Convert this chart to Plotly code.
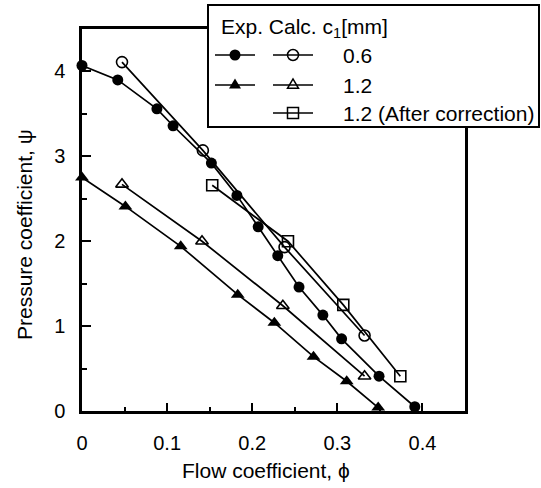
import plotly.graph_objects as go

# ---- data ----
exp06_x = [0.0, 0.042, 0.088, 0.107, 0.152, 0.182, 0.207, 0.230, 0.255, 0.283, 0.305, 0.349, 0.391]
exp06_y = [4.07, 3.90, 3.56, 3.36, 2.92, 2.54, 2.17, 1.83, 1.46, 1.13, 0.85, 0.41, 0.05]

calc06_x = [0.047, 0.142, 0.238, 0.332]
calc06_y = [4.11, 3.07, 1.93, 0.89]

exp12_x = [0.0, 0.051, 0.116, 0.183, 0.226, 0.272, 0.311, 0.348]
exp12_y = [2.75, 2.41, 1.94, 1.37, 1.04, 0.64, 0.35, 0.04]

calc12_x = [0.047, 0.141, 0.236, 0.332]
calc12_y = [2.67, 2.00, 1.24, 0.41]

corr12_x = [0.153, 0.242, 0.307, 0.374]
corr12_y = [2.66, 2.00, 1.25, 0.41]

x_ticks = [0, 0.1, 0.2, 0.3, 0.4]
y_ticks = [0, 1, 2, 3, 4]
legend_header = "Exp. Calc. c<sub>1</sub>[mm]"
legend_labels = ["0.6", "1.2", "1.2 (After correction)"]
x_title = "Flow coefficient, ϕ"
y_title = "Pressure coefficient, ψ"

# ---- figure geometry ----
W, H = 541, 488
ML, MR, MT, MB = 82, 76, 29, 77
PW, PH = W - ML - MR, H - MT - MB
FONT = "Liberation Sans, Arial, sans-serif"


def px(xp):
    return (xp - ML) / PW


def py(yp):
    return (H - MB - yp) / PH


fig = go.Figure()


def add_series(x, y, symbol, size, lw=1.6):
    fig.add_trace(go.Scatter(
        x=x, y=y, mode="lines+markers", cliponaxis=False, showlegend=False,
        line=dict(color="black", width=1.7),
        marker=dict(symbol=symbol, size=size, color="black",
                    line=dict(color="black", width=lw)),
    ))


add_series(calc06_x, calc06_y, "circle-open", 11)
add_series(calc12_x, calc12_y, "triangle-up-open", 11)
add_series(corr12_x, corr12_y, "square-open", 11)
add_series(exp06_x, exp06_y, "circle", 11, 0)
add_series(exp12_x, exp12_y, "triangle-up", 12, 0)

# ---- legend drawn with shapes/annotations ----
shapes = []
annotations = []
shapes.append(dict(type="rect", xref="paper", yref="paper", layer="above",
                   x0=px(208), x1=px(539), y0=py(127), y1=py(5),
                   fillcolor="white", line=dict(color="black", width=2)))

rows_y = [55, 85, 113]
exp_cx, calc_cx, half = 235, 293, 20


def glyph_line(cx, cy):
    shapes.append(dict(type="line", xref="paper", yref="paper", layer="above",
                       x0=px(cx - half), x1=px(cx + half), y0=py(cy), y1=py(cy),
                       line=dict(color="black", width=1.7)))


def glyph_marker(kind, filled, cx, cy):
    base = dict(xref="paper", yref="paper", layer="above",
                xsizemode="pixel", ysizemode="pixel",
                xanchor=px(cx), yanchor=py(cy),
                fillcolor="black" if filled else "rgba(0,0,0,0)",
                line=dict(color="black", width=0 if filled else 1.5))
    if kind == "circle":
        r = 5.5
        shapes.append(dict(base, type="circle", x0=-r, x1=r, y0=-r, y1=r))
    elif kind == "triangle":
        s = 6 if filled else 5.5
        path = f"M {-s} {-s*0.6} L {s} {-s*0.6} L 0 {s*1.1} Z"
        shapes.append(dict(base, type="path", path=path))
    else:
        s = 5.5
        path = f"M {-s} {-s} L {s} {-s} L {s} {s} L {-s} {s} Z"
        shapes.append(dict(base, type="path", path=path))


glyphs = [
    [("circle", True), ("circle", False)],
    [("triangle", True), ("triangle", False)],
    [None, ("square", False)],
]
for ry, (eg, cg) in zip(rows_y, glyphs):
    if eg:
        glyph_line(exp_cx, ry)
        glyph_marker(eg[0], eg[1], exp_cx, ry)
    if cg:
        glyph_line(calc_cx, ry)
        glyph_marker(cg[0], cg[1], calc_cx, ry)

annotations.append(dict(xref="paper", yref="paper", x=px(219), y=py(28),
                        xanchor="left", yanchor="middle", showarrow=False,
                        text=legend_header, font=dict(size=21, color="black", family=FONT)))
for ry, lab in zip(rows_y, legend_labels):
    annotations.append(dict(xref="paper", yref="paper", x=px(341), y=py(ry),
                            xanchor="left", yanchor="middle", showarrow=False,
                            text=lab, font=dict(size=21, color="black", family=FONT)))

# axis titles as annotations for exact placement
annotations.append(dict(xref="paper", yref="paper", x=px(266), y=py(470),
                        xanchor="center", yanchor="middle", showarrow=False,
                        text=x_title, font=dict(size=21, color="black", family=FONT)))
annotations.append(dict(xref="paper", yref="paper", x=px(25), y=py(235),
                        xanchor="center", yanchor="middle", showarrow=False, textangle=-90,
                        text=y_title, font=dict(size=21, color="black", family=FONT)))

fig.update_layout(
    width=W, height=H,
    margin=dict(l=ML, r=MR, t=MT, b=MB, pad=0),
    paper_bgcolor="white", plot_bgcolor="white",
    font=dict(family=FONT, color="black", size=20),
    shapes=shapes, annotations=annotations,
    showlegend=False,
)
fig.update_xaxes(
    range=[0, 0.45], tickvals=x_ticks, ticktext=[str(v) for v in x_ticks],
    ticks="inside", ticklen=8, tickwidth=2, tickcolor="black",
    minor=dict(dtick=0.05, ticks="inside", ticklen=4, tickwidth=2, tickcolor="black"),
    showline=True, linewidth=2.5, linecolor="black", mirror=True,
    showgrid=False, zeroline=False, ticklabelstandoff=12,
    tickfont=dict(size=20),
)
fig.update_yaxes(
    range=[0, 4.5], tickvals=y_ticks, ticktext=[f"{v}\u2002" for v in y_ticks],
    ticks="inside", ticklen=9, tickwidth=2, tickcolor="black",
    minor=dict(dtick=0.5, ticks="inside", ticklen=5, tickwidth=2, tickcolor="black"),
    showline=True, linewidth=2.5, linecolor="black", mirror=True,
    showgrid=False, zeroline=False,
    tickfont=dict(size=20),
)

fig.write_html("out.html")
